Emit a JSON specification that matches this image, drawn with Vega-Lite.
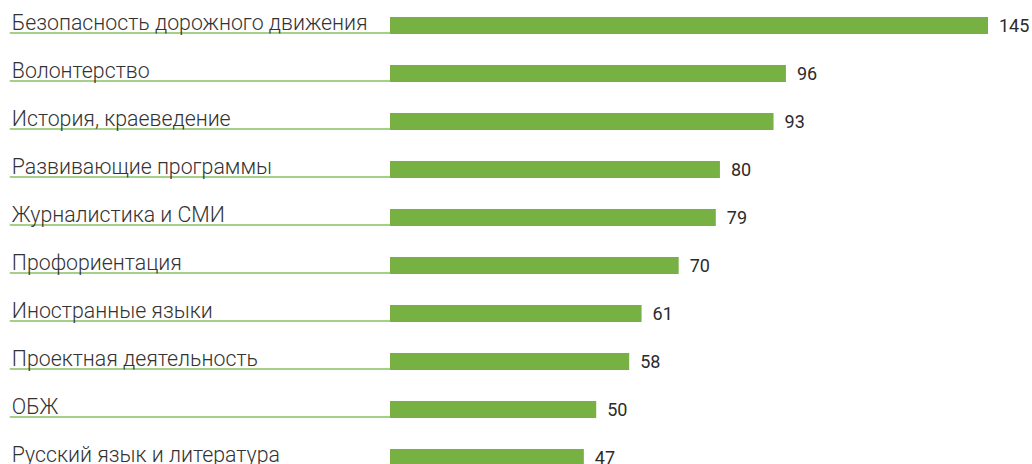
{
  "$schema": "https://vega.github.io/schema/vega-lite/v6.json",
  "width": 1032,
  "height": 464,
  "autosize": {"type": "fit", "contains": "padding"},
  "padding": 0,
  "background": "#ffffff",
  "config": {"view": {"stroke": null}},
  "data": {
    "values": [
      {"topic": "Безопасность дорожного движения", "value": 145},
      {"topic": "Волонтерство", "value": 96},
      {"topic": "История, краеведение", "value": 93},
      {"topic": "Развивающие программы", "value": 80},
      {"topic": "Журналистика и СМИ", "value": 79},
      {"topic": "Профориентация", "value": 70},
      {"topic": "Иностранные языки", "value": 61},
      {"topic": "Проектная деятельность", "value": 58},
      {"topic": "ОБЖ", "value": 50},
      {"topic": "Русский язык и литература", "value": 47}
    ]
  },
  "encoding": {
    "y": {
      "field": "topic",
      "type": "nominal",
      "sort": null,
      "axis": null,
      "scale": {"range": [1.5, 481.5], "paddingInner": 0, "paddingOuter": 0}
    }
  },
  "layer": [
    {
      "mark": {"type": "rule", "color": "#86c062", "strokeWidth": 1.5, "yOffset": 7.6},
      "encoding": {
        "x": {"datum": -92.2, "type": "quantitative", "scale": {"domain": [-94.57, 155.67], "nice": false, "zero": false}, "axis": null},
        "x2": {"datum": 0}
      }
    },
    {
      "mark": {"type": "bar", "color": "#77b043", "height": 17},
      "encoding": {
        "x": {"field": "value", "type": "quantitative"},
        "x2": {"datum": 0}
      }
    },
    {
      "mark": {"type": "text", "align": "left", "baseline": "alphabetic", "font": "Roboto", "fontWeight": 300, "fontSize": 21.3, "color": "#333333", "dy": 4},
      "encoding": {
        "x": {"datum": -91.7, "type": "quantitative"},
        "text": {"field": "topic"}
      }
    },
    {
      "mark": {"type": "text", "align": "left", "baseline": "alphabetic", "font": "Roboto", "fontWeight": 400, "fontSize": 18, "color": "#2b2b2b", "dx": 11, "dy": 6.5},
      "encoding": {
        "x": {"field": "value", "type": "quantitative"},
        "text": {"field": "value"}
      }
    }
  ]
}
